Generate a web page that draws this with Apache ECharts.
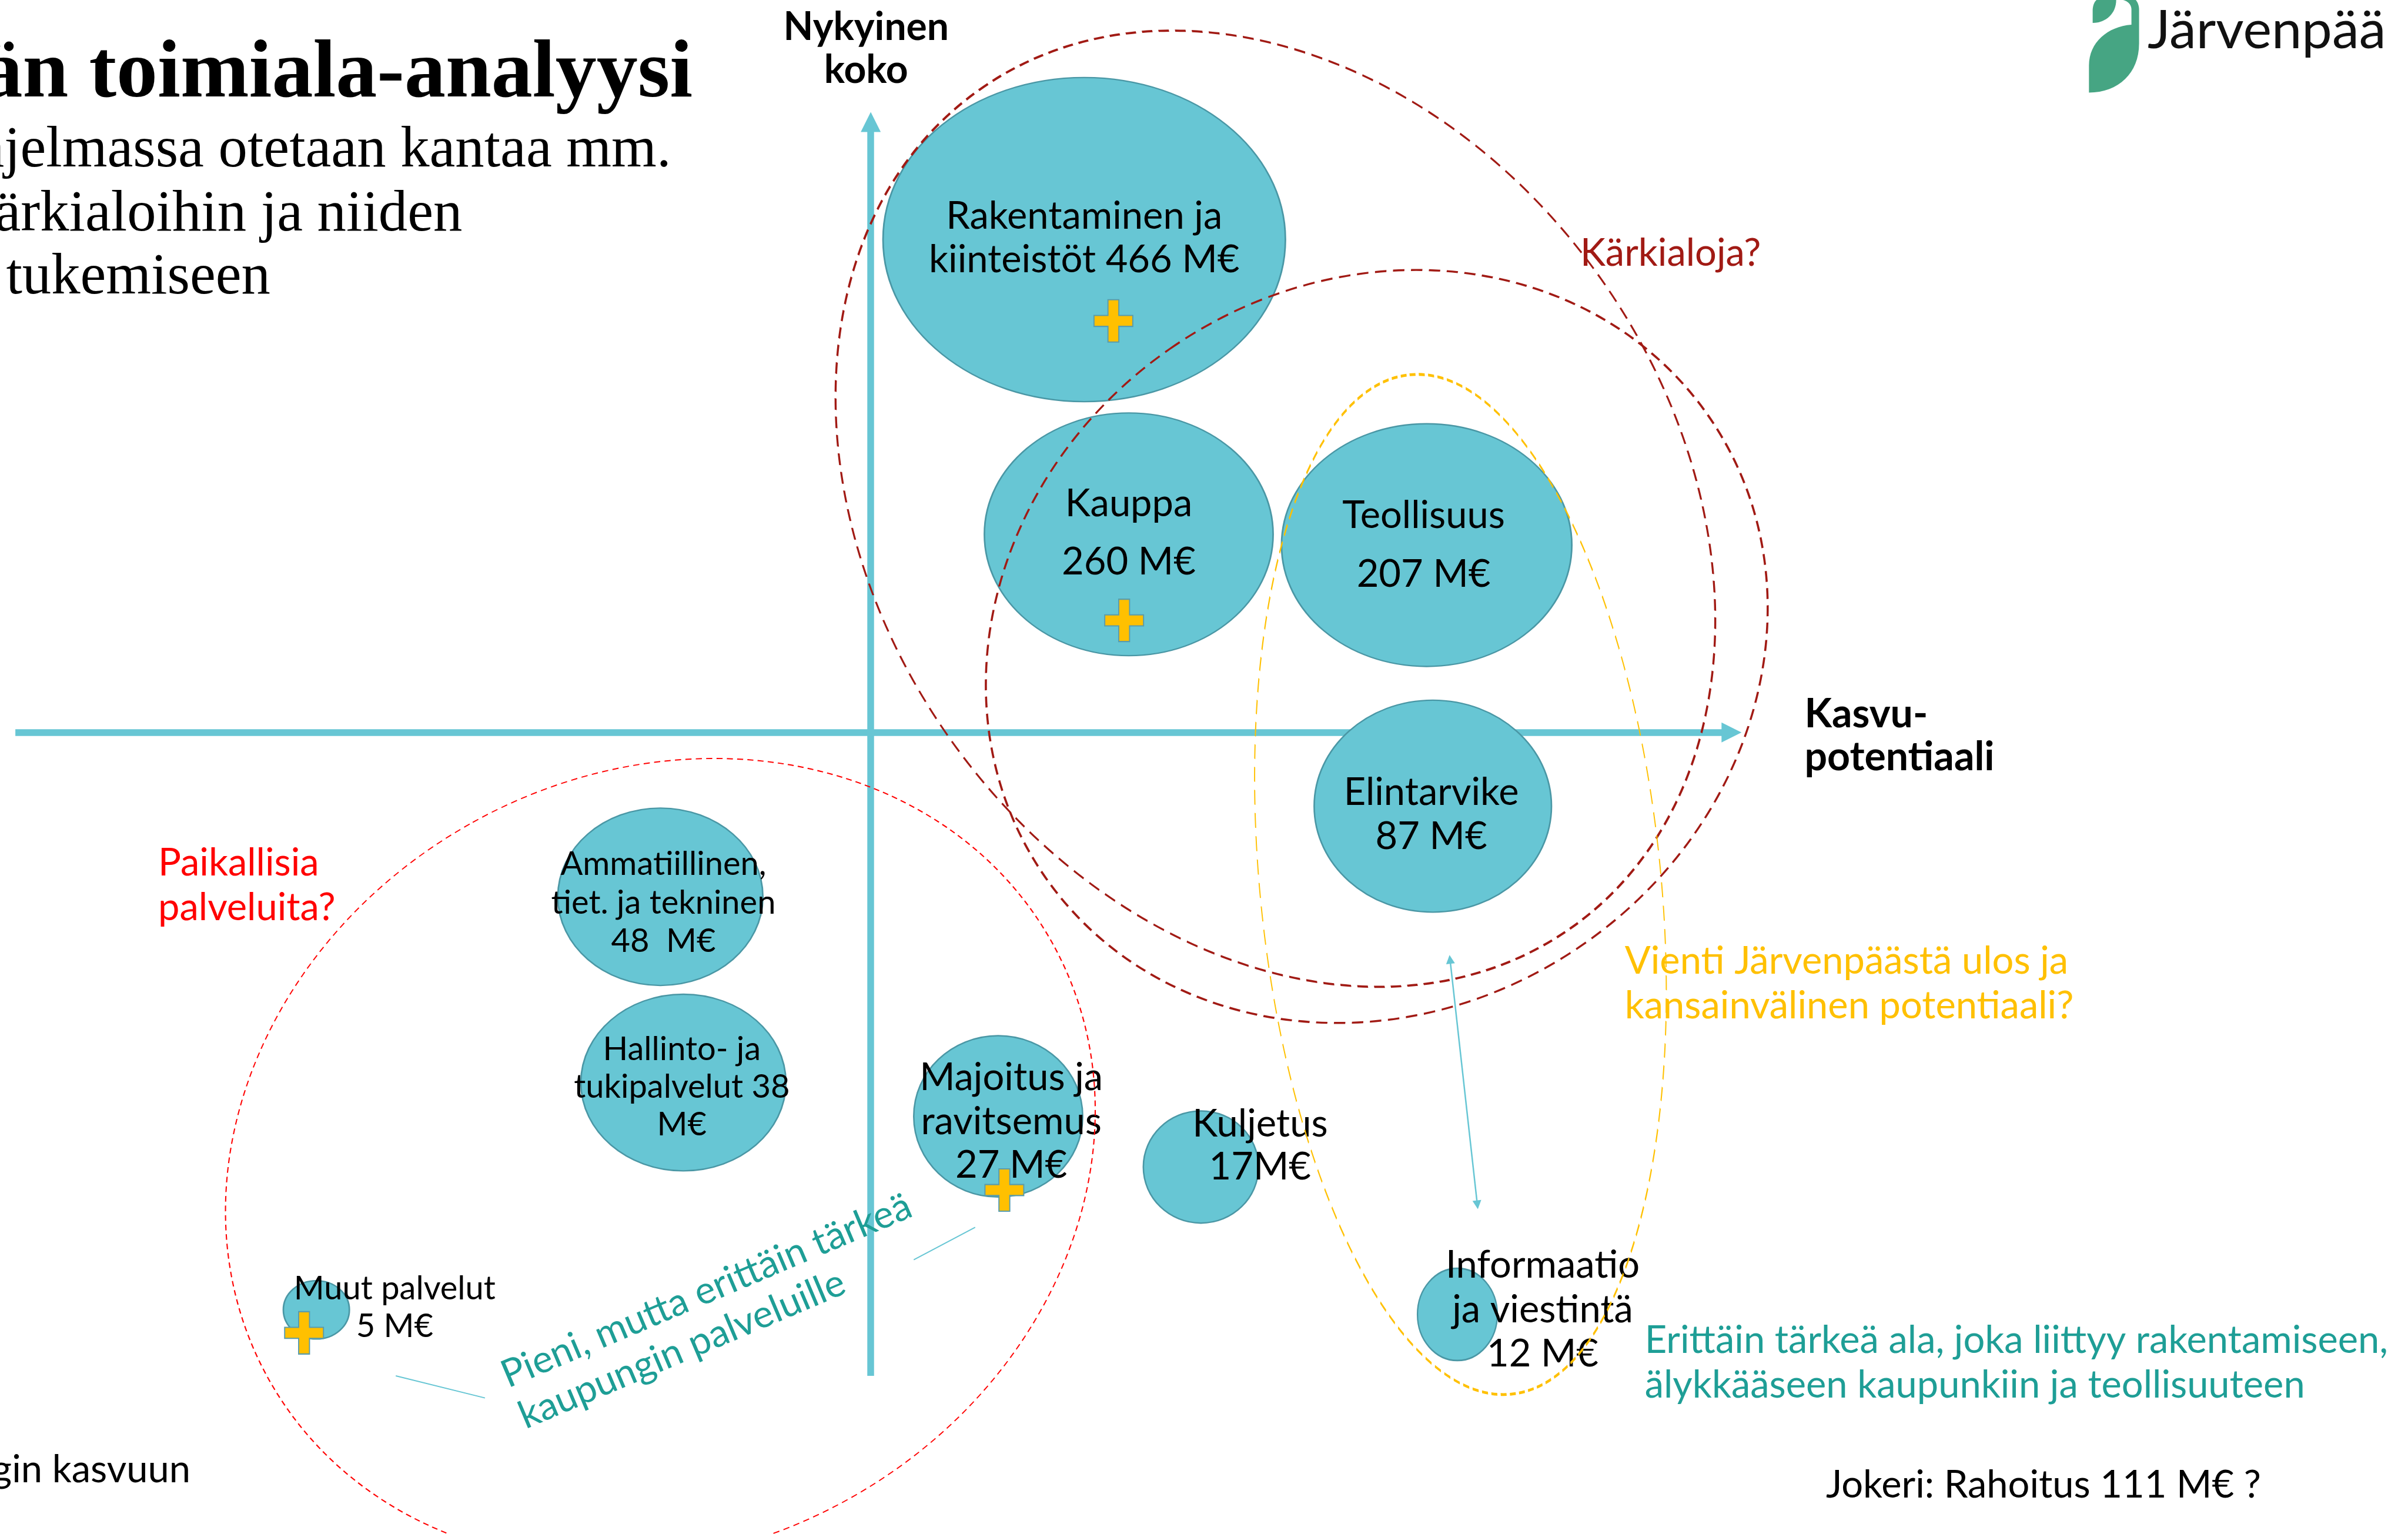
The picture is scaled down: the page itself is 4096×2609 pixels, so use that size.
<!DOCTYPE html>
<html>
<head>
<meta charset="utf-8">
<title>Järvenpään toimiala-analyysi</title>
<script src="https://cdn.jsdelivr.net/npm/echarts@6/dist/echarts.min.js"></script>
<style>
html, body { margin: 0; padding: 0; background: #fff; }
#main { width: 4096px; height: 2609px; }
</style>
</head>
<body>
<div id="main"></div>
<script>
// toimialat ja niiden arvot (x = kasvupotentiaali, y = nykyinen koko, 0 = akselien risteys)
var toimialat = ['Rakentaminen ja kiinteistöt', 'Kauppa', 'Teollisuus', 'Elintarvike',
    'Ammatiillinen, tiet. ja tekninen', 'Hallinto- ja tukipalvelut', 'Majoitus ja ravitsemus',
    'Kuljetus', 'Informaatio ja viestintä', 'Muut palvelut'];
var liikevaihto = [466, 260, 207, 87, 48, 38, 27, 17, 12, 5]; // M€
var kasvupotentiaali = [139, 168, 362, 366, -137, -122, 83, 215, 382, -361];
var nykyinenKoko = [321, 129, 122, -48, -107, -228, -250, -283, -379, -376];
var tekstit = ['Rakentaminen ja\nkiinteistöt {v} M€', 'Kauppa\n{v} M€', 'Teollisuus\n{v} M€',
    'Elintarvike\n{v} M€', 'Ammatiillinen,\ntiet. ja tekninen\n{v}  M€', 'Hallinto- ja\ntukipalvelut {v}\nM€',
    'Majoitus ja\nravitsemus\n{v} M€', 'Kuljetus\n{v}M€', 'Informaatio\nja viestintä\n{v} M€', 'Muut palvelut\n{v} M€'];

// kärjet (+) joillakin toimialoilla
var plusPisteet = [[158, 268], [165, 73], [87, -298], [-369, -391]];

// rajaukset
var ryhmat = ['Kärkialoja? 1', 'Kärkialoja? 2', 'Vienti', 'Paikallisia palveluita?'];
var ryhmaKeskipiste = [[263.5, 145.7], [329.5, 56], [384, -99], [-137, -279]];

// ulkoasu (viitekuvan yksiköissä)
var S = 4096 / 1568;
var kuplaKoko = [[262, 211], [188, 158], [189, 158], [154.5, 138], [133.5, 115.5], [133.5, 115],
    [110, 105], [75, 73], [52, 60], [43, 38]];
// [dx, dy, fonttikoko, rivivali]
var BIG = 65, SMALL = 56;
var labelLayout = [[0, -1, BIG, 28.3], [0, -1, BIG, 38], [-2, 0, BIG, 38], [-1, 5.5, BIG, 29],
    [2, 4, SMALL, 25], [-1, 3, SMALL, 24.6], [8.5, 3.5, BIG, 28.5], [38.5, -14, BIG, 28],
    [55.5, -3, BIG, 29], [51, -1.5, SMALL, 24.5]];
var ryhmaKoko = [[519, 668], [526, 472], [261, 667], [584, 504]];
var ryhmaKierto = [35.2, 34.8, 5.7, 29];
var ryhmaTyyli = [
    { borderColor: '#a11a14', borderWidth: 3.5, borderType: [19, 11] },
    { borderColor: '#a11a14', borderWidth: 3.5, borderType: [19, 11] },
    { borderColor: '#ffc000', borderWidth: 3, borderType: [16, 9] },
    { borderColor: '#ff0000', borderWidth: 2, borderType: [10, 7] }
];

var TEAL = '#67c6d4';
var FONT = 'Lato, "Open Sans", sans-serif';
var SERIF = '"Liberation Serif", "Times New Roman", serif';
var ELLIPSE = 'path://M50,0C77.614,0,100,22.386,100,50C100,77.614,77.614,100,50,100C22.386,100,0,77.614,0,50C0,22.386,22.386,0,50,0Z';
var PLUS = 'path://M9,0H16V10H25V17H16V27H9V17H0V10H9Z';

var chart = echarts.init(document.getElementById('main'));

var kuplat = toimialat.map(function (n, i) {
    var l = labelLayout[i];
    return {
        name: n,
        value: [kasvupotentiaali[i], nykyinenKoko[i], liikevaihto[i]],
        symbolSize: [kuplaKoko[i][0] * S, kuplaKoko[i][1] * S],
        label: {
            formatter: tekstit[i].replace('{v}', liikevaihto[i]),
            offset: [l[0] * S, l[1] * S],
            fontSize: l[2],
            lineHeight: l[3] * S
        }
    };
});

var rajaukset = ryhmat.map(function (n, i) {
    return {
        name: n,
        value: ryhmaKeskipiste[i],
        symbolSize: [ryhmaKoko[i][0] * S, ryhmaKoko[i][1] * S],
        symbolRotate: ryhmaKierto[i],
        itemStyle: ryhmaTyyli[i]
    };
});

function teksti(str, x, y, opt) {
    opt = opt || {};
    var align = opt.align || 'left';
    return {
        type: 'text',
        x: x * S,
        y: y * S,
        rotation: opt.rotation || 0,
        z: 50,
        style: {
            text: str,
            fill: opt.color || '#000',
            font: opt.font || ('normal ' + BIG + 'px ' + FONT),
            align: align,
            textAlign: align,
            verticalAlign: 'middle',
            textVerticalAlign: 'middle',
            lineHeight: (opt.lh || 29) * S
        }
    };
}

// logon lehdet: polku (M/L/C) pisteiksi
var logoX = 3514.4, logoS = 0.3706;
function polkuPisteiksi(segs) {
    var pts = [], cur = segs[0];
    pts.push(cur);
    for (var i = 1; i < segs.length; i++) {
        var s = segs[i];
        if (s.length === 2) { cur = s; pts.push(cur); continue; }
        for (var t = 1; t <= 16; t++) {
            var u = t / 16, v = 1 - u;
            var x = v * v * v * cur[0] + 3 * v * v * u * s[0] + 3 * v * u * u * s[2] + u * u * u * s[4];
            var y = v * v * v * cur[1] + 3 * v * v * u * s[1] + 3 * v * u * u * s[3] + u * u * u * s[5];
            pts.push([x, y]);
        }
        cur = [s[4], s[5]];
    }
    return pts.map(function (p) { return [logoX + p[0] * logoS, p[1] * logoS]; });
}
var lehtiIso = polkuPisteiksi([[105, 425], [105, 300], [105, 195, 190, 122, 300, 113], [300, 45],
    [300, 22, 285, 6, 262, 0], [320, 0], [330, 12, 335, 28, 335, 45], [335, 200], [335, 335, 240, 425, 105, 425]]);
var lehtiPieni = polkuPisteiksi([[122, 105], [122, 50], [122, 25, 130, 8, 140, 0], [230, 0], [230, 60, 185, 105, 122, 105]]);

var option = {
    backgroundColor: '#fff',
    animation: false,
    grid: { left: 0, right: 0, top: 0, bottom: 0 },
    xAxis: { type: 'value', min: -567, max: 1001, show: false },
    yAxis: { type: 'value', min: -522, max: 477, show: false },
    series: [
        {
            // akselinuolet
            type: 'lines',
            coordinateSystem: 'cartesian2d',
            z: 1,
            symbol: ['none', 'triangle'],
            symbolSize: 34,
            lineStyle: { color: TEAL, width: 11.5, opacity: 1 },
            data: [
                { coords: [[0, -419], [0, 397.5]] },
                { coords: [[-557, 0], [560.5, 0]] }
            ]
        },
        {
            type: 'lines',
            coordinateSystem: 'cartesian2d',
            z: 1,
            symbol: ['triangle', 'triangle'],
            symbolSize: 15,
            lineStyle: { color: TEAL, width: 2.5, opacity: 1 },
            data: [{ coords: [[377.2, -147.8], [395, -307.6]] }]
        },
        {
            type: 'lines',
            coordinateSystem: 'cartesian2d',
            z: 1,
            symbol: 'none',
            lineStyle: { color: TEAL, width: 2, opacity: 1 },
            data: [
                { coords: [[-309.3, -419], [-251.2, -433.4]] },
                { coords: [[28, -343.4], [68, -322.3]] }
            ]
        },
        {
            name: 'Toimialat',
            type: 'scatter',
            z: 2,
            symbol: ELLIPSE,
            itemStyle: { color: TEAL, borderColor: '#4a97a5', borderWidth: 2.5, opacity: 1 },
            label: {
                show: true,
                position: 'inside',
                color: '#000',
                fontFamily: FONT,
                fontSize: BIG,
                align: 'center'
            },
            emphasis: { disabled: true },
            data: kuplat
        },
        {
            name: 'Kärjet',
            type: 'scatter',
            z: 3,
            symbol: PLUS,
            symbolSize: [66, 72],
            itemStyle: { color: '#ffc000', borderColor: '#5a9cab', borderWidth: 2, opacity: 1 },
            emphasis: { disabled: true },
            data: plusPisteet
        },
        {
            name: 'Rajaukset',
            type: 'scatter',
            z: 4,
            symbol: ELLIPSE,
            itemStyle: { color: 'rgba(0,0,0,0)', opacity: 1 },
            emphasis: { disabled: true },
            data: rajaukset
        }
    ],
    graphic: [
        teksti('Järvenpään toimiala-analyysi', 451, 49, { align: 'right', font: 'bold 140px ' + SERIF }),
        teksti('Elinkeino-ohjelmassa otetaan kantaa mm.', 437, 98.5, { align: 'right', font: 'normal 98.7px ' + SERIF }),
        teksti('kärkialoihin ja niiden', 301, 140, { align: 'right', font: 'normal 98.7px ' + SERIF }),
        teksti('tukemiseen', 4, 181, { font: 'normal 98.7px ' + SERIF }),
        teksti('Nykyinen\nkoko', 564, 31.7, { align: 'center', font: 'bold 66px ' + FONT, lh: 28 }),
        teksti('Kasvu-\npotentiaali', 1175, 479, { font: 'bold 68px ' + FONT, lh: 28 }),
        teksti('Kärkialoja?', 1029, 165, { color: '#a11a14' }),
        teksti('Vienti Järvenpäästä ulos ja\nkansainvälinen potentiaali?', 1058, 640.5, { color: '#ffc000' }),
        teksti('Paikallisia\npalveluita?', 103, 576.5, { color: '#ff0000' }),
        teksti('Erittäin tärkeä ala, joka liittyy rakentamiseen,\nälykkääseen kaupunkiin ja teollisuuteen', 1071, 887.5, { color: '#1e9e96' }),
        teksti('Jokeri: Rahoitus 111 M€ ?', 1189, 967),
        teksti('kaupungin kasvuun', 124, 957, { align: 'right' }),
        teksti('Pieni, mutta erittäin tärkeä\nkaupungin palveluille', 333.4, 909.8,
            { color: '#1e9e96', rotation: 23 * Math.PI / 180 }),
        {
            type: 'text', x: 3653, y: 52, z: 50,
            style: { text: 'Järvenpää', fill: '#111', font: 'normal 92px ' + FONT,
                align: 'left', textAlign: 'left', verticalAlign: 'middle', textVerticalAlign: 'middle' }
        },
        { type: 'polygon', z: 50, shape: { points: lehtiIso }, style: { fill: '#46a583' } },
        { type: 'polygon', z: 50, shape: { points: lehtiPieni }, style: { fill: '#46a583' } }
    ]
};

chart.setOption(option);
</script>
</body>
</html>
